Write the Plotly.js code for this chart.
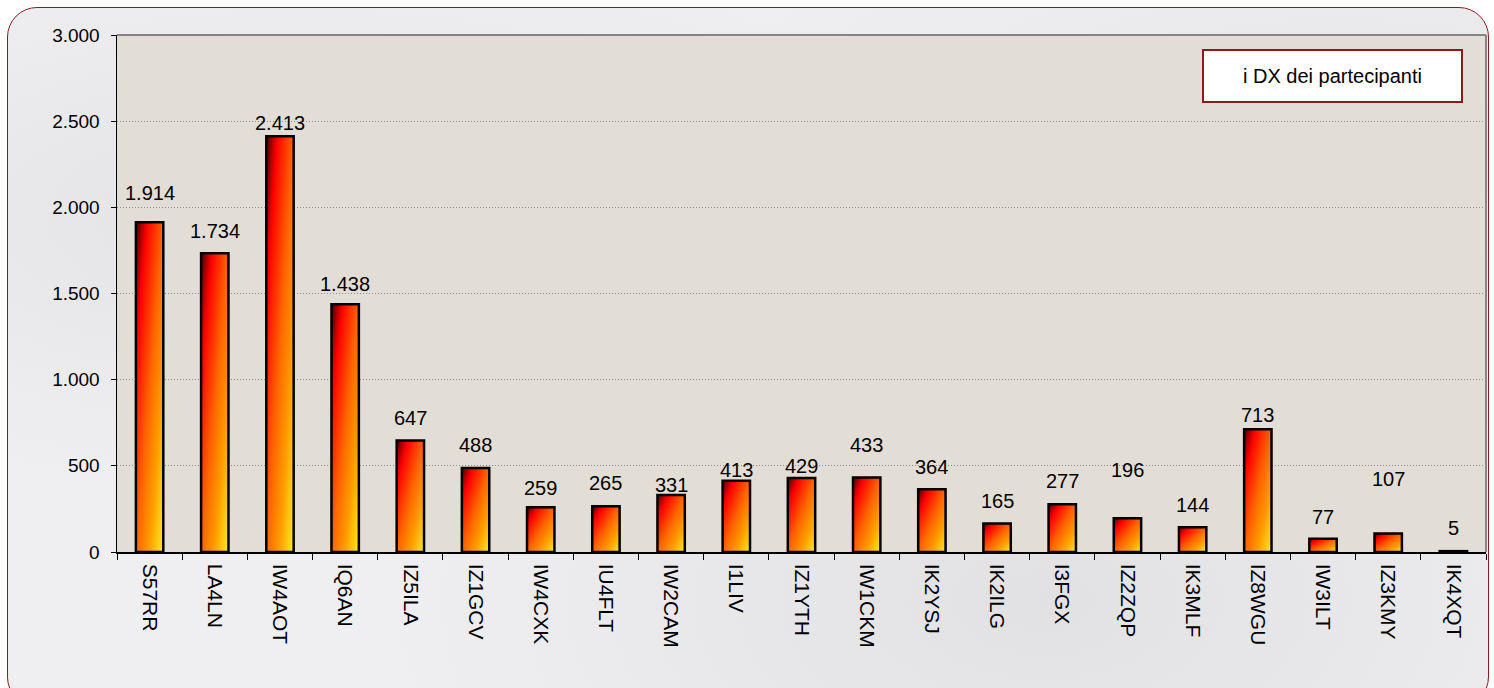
<!DOCTYPE html>
<html>
<head>
<meta charset="utf-8">
<script src="https://cdn.plot.ly/plotly-3.0.1.min.js"></script>
<style>
  html, body { margin: 0; padding: 0; background: #ffffff; }
  #frame {
    position: absolute; left: 7px; top: 7px; width: 1482px; height: 700px;
    border: 1px solid #8b1c1c; border-radius: 30px; box-sizing: border-box;
    background:
      radial-gradient(ellipse at 20% 30%, rgba(205,205,210,0.35), rgba(255,255,255,0) 40%),
      radial-gradient(ellipse at 70% 85%, rgba(200,200,205,0.35), rgba(255,255,255,0) 45%),
      radial-gradient(ellipse at 90% 20%, rgba(210,210,215,0.3), rgba(255,255,255,0) 35%),
      #efeff1;
  }
  #chart { position: absolute; left: 0; top: 0; width: 1494px; height: 688px; }
</style>
</head>
<body>
<div id="frame"></div>
<div id="chart"></div>
<script>
// ---- data ----
var categories = ["S57RR","LA4LN","IW4AOT","IQ6AN","IZ5ILA","IZ1GCV","IW4CXK","IU4FLT","IW2CAM","I1LIV","IZ1YTH","IW1CKM","IK2YSJ","IK2ILG","I3FGX","IZ2ZQP","IK3MLF","IZ8WGU","IW3ILT","IZ3KMY","IK4XQT"];
var values = [1914,1734,2413,1438,647,488,259,265,331,413,429,433,364,165,277,196,144,713,77,107,5];
var yTickVals = [0,500,1000,1500,2000,2500,3000];
var yTickText = ["0","500","1.000","1.500","2.000","2.500","3.000"];
var seriesName = "i DX dei partecipanti";

// ---- styling: label lift (px) above each bar top ----
var labelLift = [29,22,13,20,23,23,19,23,10,11,12,32,22,23,23,48,22,14,22,55,23];

var FONT = "Liberation Sans, Arial, sans-serif";

function fmt(v) {
  return String(v).replace(/\B(?=(\d{3})+(?!\d))/g, ".");
}

var trace = {
  type: "bar",
  x: categories,
  y: values,
  name: seriesName,
  marker: { color: "#ff3000", line: { color: "#000000", width: 2.5 } },
  hoverinfo: "x+y"
};

var annotations = categories.map(function (c, i) {
  return {
    x: c, y: values[i], xref: "x", yref: "y",
    text: fmt(values[i]), showarrow: false,
    yanchor: "middle", yshift: labelLift[i],
    font: { family: FONT, size: 20, color: "#000" }
  };
});
annotations.push({
  xref: "paper", yref: "paper", x: 0.8879, y: 0.9207,
  xanchor: "center", yanchor: "middle",
  text: seriesName, showarrow: false,
  width: 257, height: 50,
  bgcolor: "#ffffff", bordercolor: "#8b1c1c", borderwidth: 2, borderpad: 0,
  font: { family: FONT, size: 20, color: "#000" }
});

var layout = {
  width: 1494, height: 688,
  margin: { l: 117, r: 8, t: 35, b: 136 },
  paper_bgcolor: "rgba(0,0,0,0)",
  plot_bgcolor: "#e3ded5",
  showlegend: false,
  bargap: 0.58,
  font: { family: FONT, size: 19, color: "#000" },
  xaxis: {
    type: "category",
    tickangle: 90,
    ticks: "outside", tickson: "boundaries", ticklen: 6, tickcolor: "#000", tickwidth: 1,
    ticklabelstandoff: 6,
    showline: true, linecolor: "#000", linewidth: 1.5,
    showgrid: false, zeroline: false,
    tickfont: { family: FONT, size: 21, color: "#000" }
  },
  yaxis: {
    range: [0, 3000],
    tickvals: yTickVals, ticktext: yTickText,
    ticks: "outside", ticklen: 5, tickcolor: "#000", tickwidth: 1,
    ticklabelstandoff: 7,
    showline: true, linecolor: "#000", linewidth: 1.5,
    showgrid: true, gridcolor: "#8c8c8c", gridwidth: 1, griddash: "1px,2px",
    zeroline: false,
    tickfont: { family: FONT, size: 19, color: "#000" }
  },
  shapes: [
    { type: "line", xref: "paper", yref: "paper", x0: 0, x1: 1, y0: 1, y1: 1, line: { color: "#858585", width: 2 } },
    { type: "line", xref: "paper", yref: "paper", x0: 1, x1: 1, y0: 0, y1: 1, line: { color: "#858585", width: 2 } }
  ],
  annotations: annotations
};

function applyGradient(gd) {
  var svg = gd.querySelector(".main-svg");
  if (!svg) return;
  var ns = "http://www.w3.org/2000/svg";
  var defs = svg.querySelector("defs");
  if (!defs) { defs = document.createElementNS(ns, "defs"); svg.insertBefore(defs, svg.firstChild); }
  if (!svg.querySelector("#barGrad")) {
    var g = document.createElementNS(ns, "linearGradient");
    g.setAttribute("id", "barGrad");
    g.setAttribute("x1", "0"); g.setAttribute("y1", "0");
    g.setAttribute("x2", "1"); g.setAttribute("y2", "1");
    [["0", "#400000"], ["0.2", "#ff0000"], ["0.5", "#ff6400"], ["0.75", "#ffa000"], ["1", "#ffee22"]].forEach(function (s) {
      var st = document.createElementNS(ns, "stop");
      st.setAttribute("offset", s[0]);
      st.setAttribute("stop-color", s[1]);
      g.appendChild(st);
    });
    defs.appendChild(g);
  }
  gd.querySelectorAll(".trace.bars .point path").forEach(function (p) {
    p.style.fill = "url(#barGrad)";
  });
}

Plotly.newPlot("chart", [trace], layout, { displayModeBar: false, staticPlot: true }).then(function (gd) {
  applyGradient(gd);
});
</script>
</body>
</html>
